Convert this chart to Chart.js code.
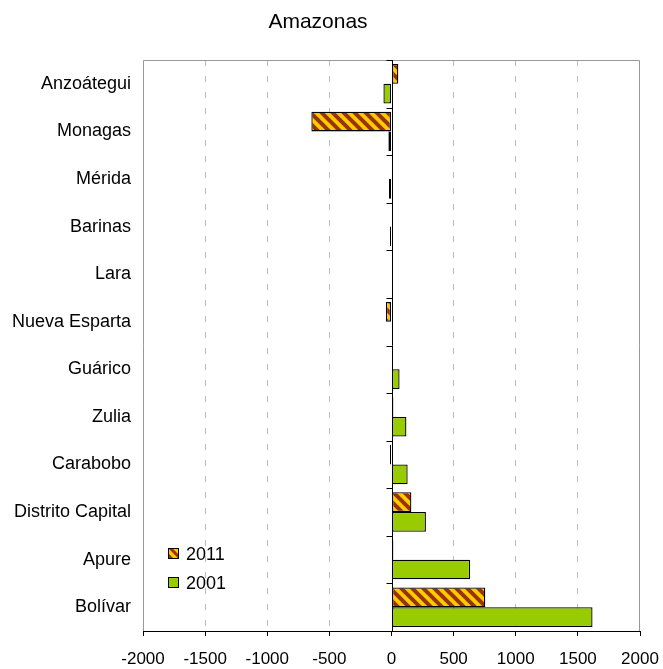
<!DOCTYPE html>
<html>
<head>
<meta charset="utf-8">
<script src="https://cdn.jsdelivr.net/npm/chart.js@4.4.0/dist/chart.umd.min.js"></script>
<style>
  html, body { margin: 0; padding: 0; background: #fff; }
  canvas { display: block; }
</style>
</head>
<body>
<canvas id="chart" width="663" height="669"></canvas>
<script>
// Datos
const categories = ['Anzoátegui', 'Monagas', 'Mérida', 'Barinas', 'Lara', 'Nueva Esparta',
    'Guárico', 'Zulia', 'Carabobo', 'Distrito Capital', 'Apure', 'Bolívar'];
const values2011 = [55, -645, 0, 12, 12, -45, 0, 15, -12, 160, 15, 755];
const values2001 = [-65, -25, -20, -12, 0, 0, 65, 120, 130, 277, 633, 1618];
const seriesLabels = ['2011', '2001'];
const xTicks = [-2000, -1500, -1000, -500, 0, 500, 1000, 1500, 2000];

const FONT = '"Liberation Sans", Arial, sans-serif';
const canvas = document.getElementById('chart');
const ctx = canvas.getContext('2d');

// Patrón rayado (dorado con franjas marrones)
function makeHatch(size, width) {
    const c = document.createElement('canvas');
    c.width = size; c.height = size;
    const g = c.getContext('2d');
    g.fillStyle = '#FFCC00';
    g.fillRect(0, 0, size, size);
    g.strokeStyle = '#993300';
    g.lineWidth = width;
    g.beginPath();
    g.moveTo(-3, -3); g.lineTo(size + 3, size + 3);
    g.moveTo(-3, size - 3); g.lineTo(3, size + 3);
    g.moveTo(size - 3, -3); g.lineTo(size + 3, 3);
    g.stroke();
    return ctx.createPattern(c, 'repeat');
}
const hatch = makeHatch(11, 4);
const hatchSmall = makeHatch(9, 3);
const green = '#99CC00';

// Marco, línea del cero y marcas del eje de categorías
const framePlugin = {
    id: 'frame',
    beforeDatasetsDraw(chart) {
        const { ctx, chartArea: a, scales: { x, y } } = chart;
        ctx.save();
        ctx.strokeStyle = '#999';
        ctx.lineWidth = 1;
        ctx.beginPath();
        ctx.moveTo(a.left + 0.5, a.bottom);
        ctx.lineTo(a.left + 0.5, a.top + 0.5);
        ctx.lineTo(a.right - 0.5, a.top + 0.5);
        ctx.lineTo(a.right - 0.5, a.bottom);
        ctx.stroke();

        const x0 = Math.round(x.getPixelForValue(0)) + 0.5;
        ctx.strokeStyle = '#000';
        ctx.beginPath();
        ctx.moveTo(x0, a.top);
        ctx.lineTo(x0, a.bottom);
        for (let i = 0; i <= categories.length; i++) {
            const py = Math.round(y.getPixelForValue(i - 0.5)) + 0.5;
            ctx.moveTo(x0 - 6, py);
            ctx.lineTo(x0, py);
        }
        ctx.stroke();
        ctx.restore();
    }
};

// Título y leyenda dentro del área
const textPlugin = {
    id: 'texts',
    afterDraw(chart) {
        const { ctx } = chart;
        ctx.save();
        ctx.fillStyle = '#000';
        ctx.font = '21px ' + FONT;
        ctx.textAlign = 'center';
        ctx.textBaseline = 'middle';
        ctx.fillText('Amazonas', 318, 22);

        const fills = [hatchSmall, green];
        const ys = [554, 583];
        ctx.font = '18px ' + FONT;
        ctx.textAlign = 'left';
        chart.data.datasets.forEach((ds, i) => {
            ctx.fillStyle = fills[i];
            ctx.fillRect(168, ys[i] - 6, 11, 11);
            ctx.strokeStyle = '#000';
            ctx.lineWidth = 1;
            ctx.strokeRect(168.5, ys[i] - 5.5, 10, 10);
            ctx.fillStyle = '#000';
            ctx.fillText(ds.label, 186, ys[i] + 1);
        });
        ctx.restore();
    }
};

new Chart(ctx, {
    type: 'bar',
    data: {
        labels: categories,
        datasets: [{
            label: seriesLabels[0],
            data: values2011,
            backgroundColor: hatch,
            borderColor: '#000',
            borderWidth: 1.3,
            borderSkipped: false
        }, {
            label: seriesLabels[1],
            data: values2001,
            backgroundColor: green,
            borderColor: '#000',
            borderWidth: 1.3,
            borderSkipped: false
        }]
    },
    options: {
        responsive: false,
        animation: false,
        indexAxis: 'y',
        datasets: { bar: { categoryPercentage: 0.83, barPercentage: 1.0 } },
        layout: { padding: { top: 60, right: 23, left: 0, bottom: 0 } },
        scales: {
            x: {
                min: -2000,
                max: 2000,
                afterBuildTicks: (scale) => { scale.ticks = xTicks.map(v => ({ value: v })); },
                afterFit: (scale) => {
                    scale.height = 38;
                    scale.paddingLeft = 0;
                    scale.paddingRight = 0;
                },
                ticks: {
                    color: '#000',
                    font: { family: FONT, size: 17 },
                    padding: 13,
                    maxRotation: 0,
                    autoSkip: false,
                    callback: (v) => String(v)
                },
                grid: {
                    color: (c) => (c.tick && (c.tick.value === 0 || Math.abs(c.tick.value) === 2000)) ? 'rgba(0,0,0,0)' : '#bbbbbb',
                    lineWidth: 1,
                    tickColor: '#000',
                    tickLength: 5
                },
                border: { display: true, color: '#000', width: 1, dash: [6, 10] }
            },
            y: {
                afterFit: (scale) => { scale.width = 143; },
                ticks: {
                    color: '#000',
                    font: { family: FONT, size: 18 },
                    padding: 12
                },
                grid: { display: false, drawTicks: false },
                border: { display: false }
            }
        },
        plugins: {
            legend: { display: false },
            title: { display: false },
            tooltip: { enabled: false }
        }
    },
    plugins: [framePlugin, textPlugin]
});
</script>
</body>
</html>
